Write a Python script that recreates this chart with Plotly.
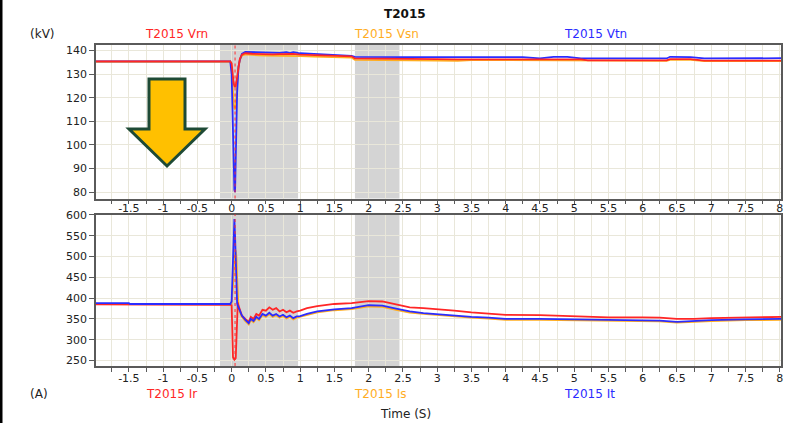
import plotly.graph_objects as go

# ---------------- data ----------------
t_v = [-1.98, -0.02, 0.0, 0.01, 0.02, 0.03, 0.04, 0.05, 0.06, 0.07, 0.08, 0.09, 0.10, 0.12, 0.15,
       0.20, 0.30, 0.40, 0.50, 0.60, 0.70, 0.80, 0.85, 0.90, 1.0, 1.2, 1.5, 1.75, 1.8, 2.0,
       2.5, 3.0, 3.3, 3.5, 4.0, 4.25, 4.5, 4.7, 4.9, 5.1, 5.2, 5.5, 6.0, 6.35, 6.4, 6.7,
       6.9, 7.0, 7.5, 8.02]
vtn = [135.4, 135.4, 130, 115, 105, 88, 81, 80, 90, 108, 122, 130, 133, 136, 138.5,
       139.4, 139.3, 139.2, 139.0, 139.0, 139.0, 139.3, 138.9, 139.3, 138.8, 138.5, 138.0, 137.7, 137.3, 137.2,
       137.2, 137.2, 137.2, 137.2, 137.2, 137.2, 136.6, 137.3, 137.3, 136.6, 136.6, 136.6, 136.6, 136.6, 137.3, 137.2,
       136.6, 136.6, 136.7, 136.7]
vrn = [135.4, 135.4, 134.5, 131, 128, 126, 125, 124.5, 125, 127, 130, 132.5, 134.5, 136.5, 138.2,
       138.8, 138.6, 138.4, 138.4, 138.3, 138.4, 138.5, 138.3, 138.5, 138.2, 138.0, 137.8, 137.5, 136.6, 136.5,
       136.4, 136.3, 136.2, 136.2, 136.2, 136.2, 136.2, 136.2, 136.2, 136.2, 135.8, 135.8, 135.8, 135.8, 136.3, 136.3,
       135.7, 135.7, 135.7, 135.7]
vsn = [135.2, 135.2, 133, 126, 120, 117, 115.5, 115, 117, 121, 126, 130, 133, 135.8, 137.8,
       138.3, 138.0, 137.9, 137.8, 137.8, 137.7, 137.9, 137.7, 137.9, 137.6, 137.4, 137.2, 137.0, 136.0, 135.9,
       135.8, 135.7, 135.6, 135.9, 135.9, 135.9, 135.9, 135.9, 135.9, 135.9, 135.6, 135.6, 135.6, 135.6, 136.0, 136.0,
       135.5, 135.5, 135.5, 135.5]

t_i = [-1.98, -1.5, -1.48, -0.02, 0.0, 0.01, 0.02, 0.03, 0.04, 0.05, 0.06, 0.07, 0.08, 0.09, 0.10, 0.12,
       0.15, 0.20, 0.25, 0.28, 0.32, 0.36, 0.40, 0.45, 0.50, 0.55, 0.60, 0.65, 0.70, 0.75, 0.80,
       0.85, 0.90, 0.95, 1.0, 1.1, 1.25, 1.5, 1.75, 2.0, 2.2, 2.4, 2.6, 2.8, 3.0, 3.25, 3.5,
       3.75, 4.0, 4.5, 5.0, 5.5, 6.0, 6.25, 6.5, 6.75, 7.0, 7.5, 8.02]
i_t = [388, 388, 386, 386, 392, 450, 530, 580, 590, 550, 470, 410, 388, 382, 378, 370,
       358, 348, 340, 350, 345, 355, 350, 362, 358, 365, 358, 362, 356, 360, 354,
       358, 352, 356, 357, 362, 368, 373, 376, 383, 382, 375, 368, 364, 361, 358, 355,
       353, 350, 350, 349, 347, 347, 346, 343, 345, 347, 349, 350]
i_s = [386, 386, 385, 385, 388, 405, 430, 460, 490, 505, 515, 500, 450, 400, 378, 366,
       355, 345, 337, 347, 342, 352, 347, 359, 355, 362, 355, 359, 353, 357, 351,
       355, 349, 353, 355, 360, 366, 371, 374, 380, 379, 372, 365, 362, 359, 356, 353,
       351, 348, 348, 347, 345, 345, 344, 341, 343, 345, 347, 348]
i_r = [385, 385, 384, 384, 383, 300, 258, 255, 252, 254, 256, 300, 385, 390, 382, 370,
       358, 350, 343, 355, 350, 362, 358, 372, 370, 378, 372, 376, 368, 372, 366,
       370, 365, 368, 370, 376, 381, 386, 388, 393, 392, 385, 378, 376, 374, 370, 366,
       363, 360, 359, 356, 354, 354, 353, 350, 350, 352, 354, 355]

x_tickvals = [-1.5, -1, -0.5, 0, 0.5, 1, 1.5, 2, 2.5, 3, 3.5, 4, 4.5, 5, 5.5, 6, 6.5, 7, 7.5, 8]
x_ticktext = ["-1.5", "-1", "-0.5", "0", "0.5", "1", "1.5", "2", "2.5", "3", "3.5", "4",
              "4.5", "5", "5.5", "6", "6.5", "7", "7.5", "8"]
v_ticks = [80, 90, 100, 110, 120, 130, 140]
i_ticks = [250, 300, 350, 400, 450, 500, 550, 600]
shaded_spans = [(-0.17, 0.97), (1.8, 2.45)]
fault_line_t = 0.05

# ---------------- styling ----------------
W, H = 798, 423
ML, MR, MT, MB = 96, 17, 45, 57
RED, ORANGE, BLUE = "#ff2626", "#ffad1f", "#2b2bff"
FONT = "DejaVu Sans"
GRID = "#e9e7da"
AXC = "#5a5a5a"


def px(x):
    return (x - ML) / (W - ML - MR)


def py(y):
    return (H - MB - y) / (H - MT - MB)


fig = go.Figure()
for name, ys, c in [("T2015 Vsn", vsn, ORANGE), ("T2015 Vtn", vtn, BLUE), ("T2015 Vrn", vrn, RED)]:
    fig.add_trace(go.Scatter(x=t_v, y=ys, mode="lines", name=name,
                             line=dict(color=c, width=1.8), xaxis="x", yaxis="y"))
for name, ys, c in [("T2015 Is", i_s, ORANGE), ("T2015 Ir", i_r, RED), ("T2015 It", i_t, BLUE)]:
    fig.add_trace(go.Scatter(x=t_i, y=ys, mode="lines", name=name,
                             line=dict(color=c, width=1.8), xaxis="x2", yaxis="y2"))

top_dom = [py(198.5), 1.0]
bot_dom = [0.0, py(214.5)]

xcommon = dict(range=[-1.98, 8.02], tickmode="array", tickvals=x_tickvals, ticktext=x_ticktext,
               showgrid=True, gridcolor=GRID, gridwidth=1, zeroline=False,
               showline=True, linecolor=AXC, linewidth=1.5, mirror=True,
               ticks="outside", ticklen=4, tickcolor=AXC,
               minor=dict(tickmode="array", tickvals=[v + 0.25 for v in [-2] + x_tickvals],
                          showgrid=True, gridcolor=GRID, ticks="outside", ticklen=4, tickcolor=AXC),
               tickfont=dict(family=FONT, size=11, color="#222"), fixedrange=True)
ycommon = dict(showgrid=True, gridcolor=GRID, zeroline=False,
               showline=True, linecolor=AXC, linewidth=1.5, mirror=True,
               ticks="outside", ticklen=5, tickcolor=AXC,
               tickfont=dict(family=FONT, size=11, color="#222"), fixedrange=True)

fig.update_layout(
    width=W, height=H, autosize=False,
    margin=dict(l=ML, r=MR, t=MT, b=MB, pad=0),
    paper_bgcolor="white", plot_bgcolor="white",
    showlegend=False, hovermode=False,
    xaxis=dict(**xcommon, anchor="y", domain=[0, 1], ticklabelstandoff=-5),
    xaxis2=dict(**xcommon, anchor="y2", domain=[0, 1], matches="x", ticklabelstandoff=-3),
    yaxis=dict(**ycommon, range=[77.3, 142.3], tickvals=v_ticks, domain=top_dom, anchor="x"),
    yaxis2=dict(**ycommon, range=[237, 601], tickvals=i_ticks, domain=bot_dom, anchor="x2"),
)

shapes = []
for xr, yr in [("x", "y domain"), ("x2", "y2 domain")]:
    for a, b in shaded_spans:
        shapes.append(dict(type="rect", xref=xr, yref=yr, x0=a, x1=b, y0=0, y1=1,
                           fillcolor="#d4d4d4", line=dict(width=0), layer="below"))
    shapes.append(dict(type="line", xref=xr, yref=yr, x0=0, x1=0, y0=0, y1=1,
                       line=dict(color="#9a9a9a", width=1), layer="below"))
    shapes.append(dict(type="line", xref=xr, yref=yr, x0=fault_line_t, x1=fault_line_t, y0=0, y1=1,
                       line=dict(color="#ff3030", width=1, dash="dot"), layer="above"))

# decorative arrow (pixel geometry)
arrow_px = [(149, 79), (185, 79), (185, 129), (205, 129), (167, 166), (129, 129), (149, 129)]
path = "M " + " L ".join(f"{px(x):.5f},{py(y):.5f}" for x, y in arrow_px) + " Z"
shapes.append(dict(type="path", xref="paper", yref="paper", path=path,
                   fillcolor="#ffc000", line=dict(color="#1e4a35", width=3), layer="above"))
# left edge strip
shapes.append(dict(type="rect", xref="paper", yref="paper", x0=px(0), x1=px(2.5), y0=py(H), y1=py(0),
                   fillcolor="black", line=dict(width=0), layer="above"))
fig.update_layout(shapes=shapes)

labels = [
    ("T2015", 405, 14, "#111", True),
    ("(kV)", 42, 34, "#222", False),
    ("T2015 Vrn", 176, 34, RED, False),
    ("T2015 Vsn", 386, 34, ORANGE, False),
    ("T2015 Vtn", 595, 34, BLUE, False),
    ("(A)", 39, 394, "#222", False),
    ("T2015 Ir", 171, 394, RED, False),
    ("T2015 Is", 380, 394, ORANGE, False),
    ("T2015 It", 589, 394, BLUE, False),
    ("Time (S)", 405, 414, "#222", False),
]
for txt, x, y, c, bold in labels:
    fig.add_annotation(text=f"<b>{txt}</b>" if bold else txt, xref="paper", yref="paper",
                       x=px(x), y=py(y), xanchor="center", yanchor="middle", showarrow=False,
                       font=dict(family=FONT, size=12, color=c))

fig.write_html("out.html")
